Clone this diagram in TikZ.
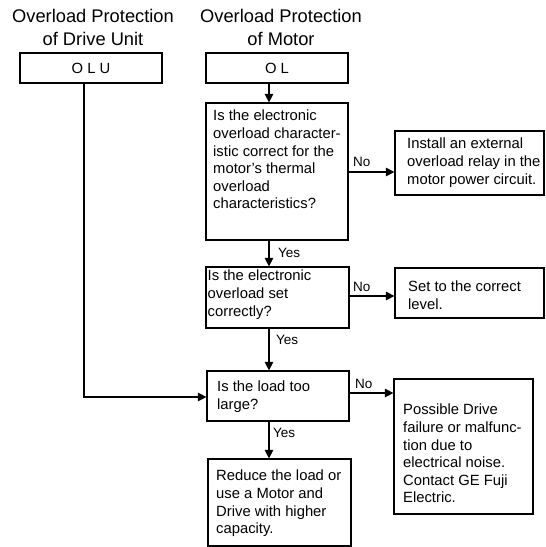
\documentclass[tikz,border=0pt]{standalone}
\usepackage{fontspec}
\setmainfont{Liberation Sans}
\usetikzlibrary{arrows.meta}
\tikzset{
  box/.style={draw, line width=1.2pt, inner sep=0pt},
  txt/.style={inner sep=0pt, align=left, anchor=north west, font=\fontsize{14.8}{17.6}\selectfont},
  ctxt/.style={inner sep=0pt, font=\fontsize{14.8}{17.6}\selectfont},
  ttl/.style={inner sep=0pt, align=center, font=\fontsize{18.3}{23}\selectfont},
  lbl/.style={inner sep=0pt, anchor=base west, font=\fontsize{13.5}{15}\selectfont},
  conn/.style={line width=1.2pt},
  arr/.style={line width=1.2pt, -{Triangle[length=8.5pt,width=8.5pt]}}
}
\begin{document}
\begin{tikzpicture}[x=1pt,y=-1pt]
\useasboundingbox (0,0) rectangle (546,547);
% titles
\node[ttl] (t1) at (93,27.5) {Overload Protection\\of Drive Unit};
\node[ttl] (t2) at (281,27.5) {Overload Protection\\of Motor};
% boxes
\node[box, minimum width=142pt, minimum height=30pt] (olu) at (91,68) {};
\node[ctxt] (olut) at (olu.center) {O L U};
\node[box, minimum width=142pt, minimum height=30pt] (ol) at (277,68) {};
\node[ctxt] (olt) at (ol.center) {O L};
\node[box, minimum width=142pt, minimum height=137pt] (q1) at (277,171.5) {};
\node[box, minimum width=149pt, minimum height=64pt] (a1) at (469.5,163) {};
\node[box, minimum width=143pt, minimum height=61pt] (q2) at (277.5,297.5) {};
\node[box, minimum width=149pt, minimum height=50pt] (a2) at (469.5,293) {};
\node[box, minimum width=142pt, minimum height=50pt] (q3) at (278,396) {};
\node[box, minimum width=139pt, minimum height=135pt] (a3) at (463.5,446.5) {};
\node[box, minimum width=143pt, minimum height=87pt] (q4) at (279.5,502.5) {};
% texts
\node[txt] (q1t) at (213,110) {Is the electronic\\overload character-\\istic correct for the\\motor's thermal\\overload\\characteristics?};
\node[txt] (a1t) at (407,138) {Install an external\\overload relay in the\\motor power circuit.};
\node[txt] (q2t) at (207.5,270) {Is the electronic\\overload set\\correctly?};
\node[txt] (a2t) at (408,281) {Set to the correct\\level.};
\node[txt] (q3t) at (217,381) {Is the load too\\large?};
\node[txt] (a3t) at (403,404) {Possible Drive\\failure or malfunc-\\tion due to\\electrical noise.\\Contact GE Fuji\\Electric.};
\node[txt] (q4t) at (216,470) {Reduce the load or\\use a Motor and\\Drive with higher\\capacity.};
% connectors
\coordinate (spine) at (269,0);
\coordinate (bend) at (84,397);
\draw[arr] (ol.south -| spine) -- (q1.north -| spine);
\draw[arr] (q1.south -| spine) -- (q2.north -| spine);
\draw[arr] (q2.south -| spine) -- (q3.north -| spine);
\draw[arr] (q3.south -| spine) -- (q4.north -| spine);
\draw[arr] (q1.east |- 0,172) -- (a1.west |- 0,172);
\draw[arr] (q2.east |- 0,296) -- (a2.west |- 0,296);
\draw[arr] (q3.east |- 0,393) -- (a3.west |- 0,393);
\draw[arr] (olu.south -| bend) -- (bend) -- (q3.west |- bend);
% labels
\node[lbl] (no1) at (353,166.5) {No};
\node[lbl] (no2) at (353,291.5) {No};
\node[lbl] (no3) at (355,388.5) {No};
\node[lbl] (yes1) at (278,257.5) {Yes};
\node[lbl] (yes2) at (276,344.5) {Yes};
\node[lbl] (yes3) at (273,437.5) {Yes};
\end{tikzpicture}
\end{document}
